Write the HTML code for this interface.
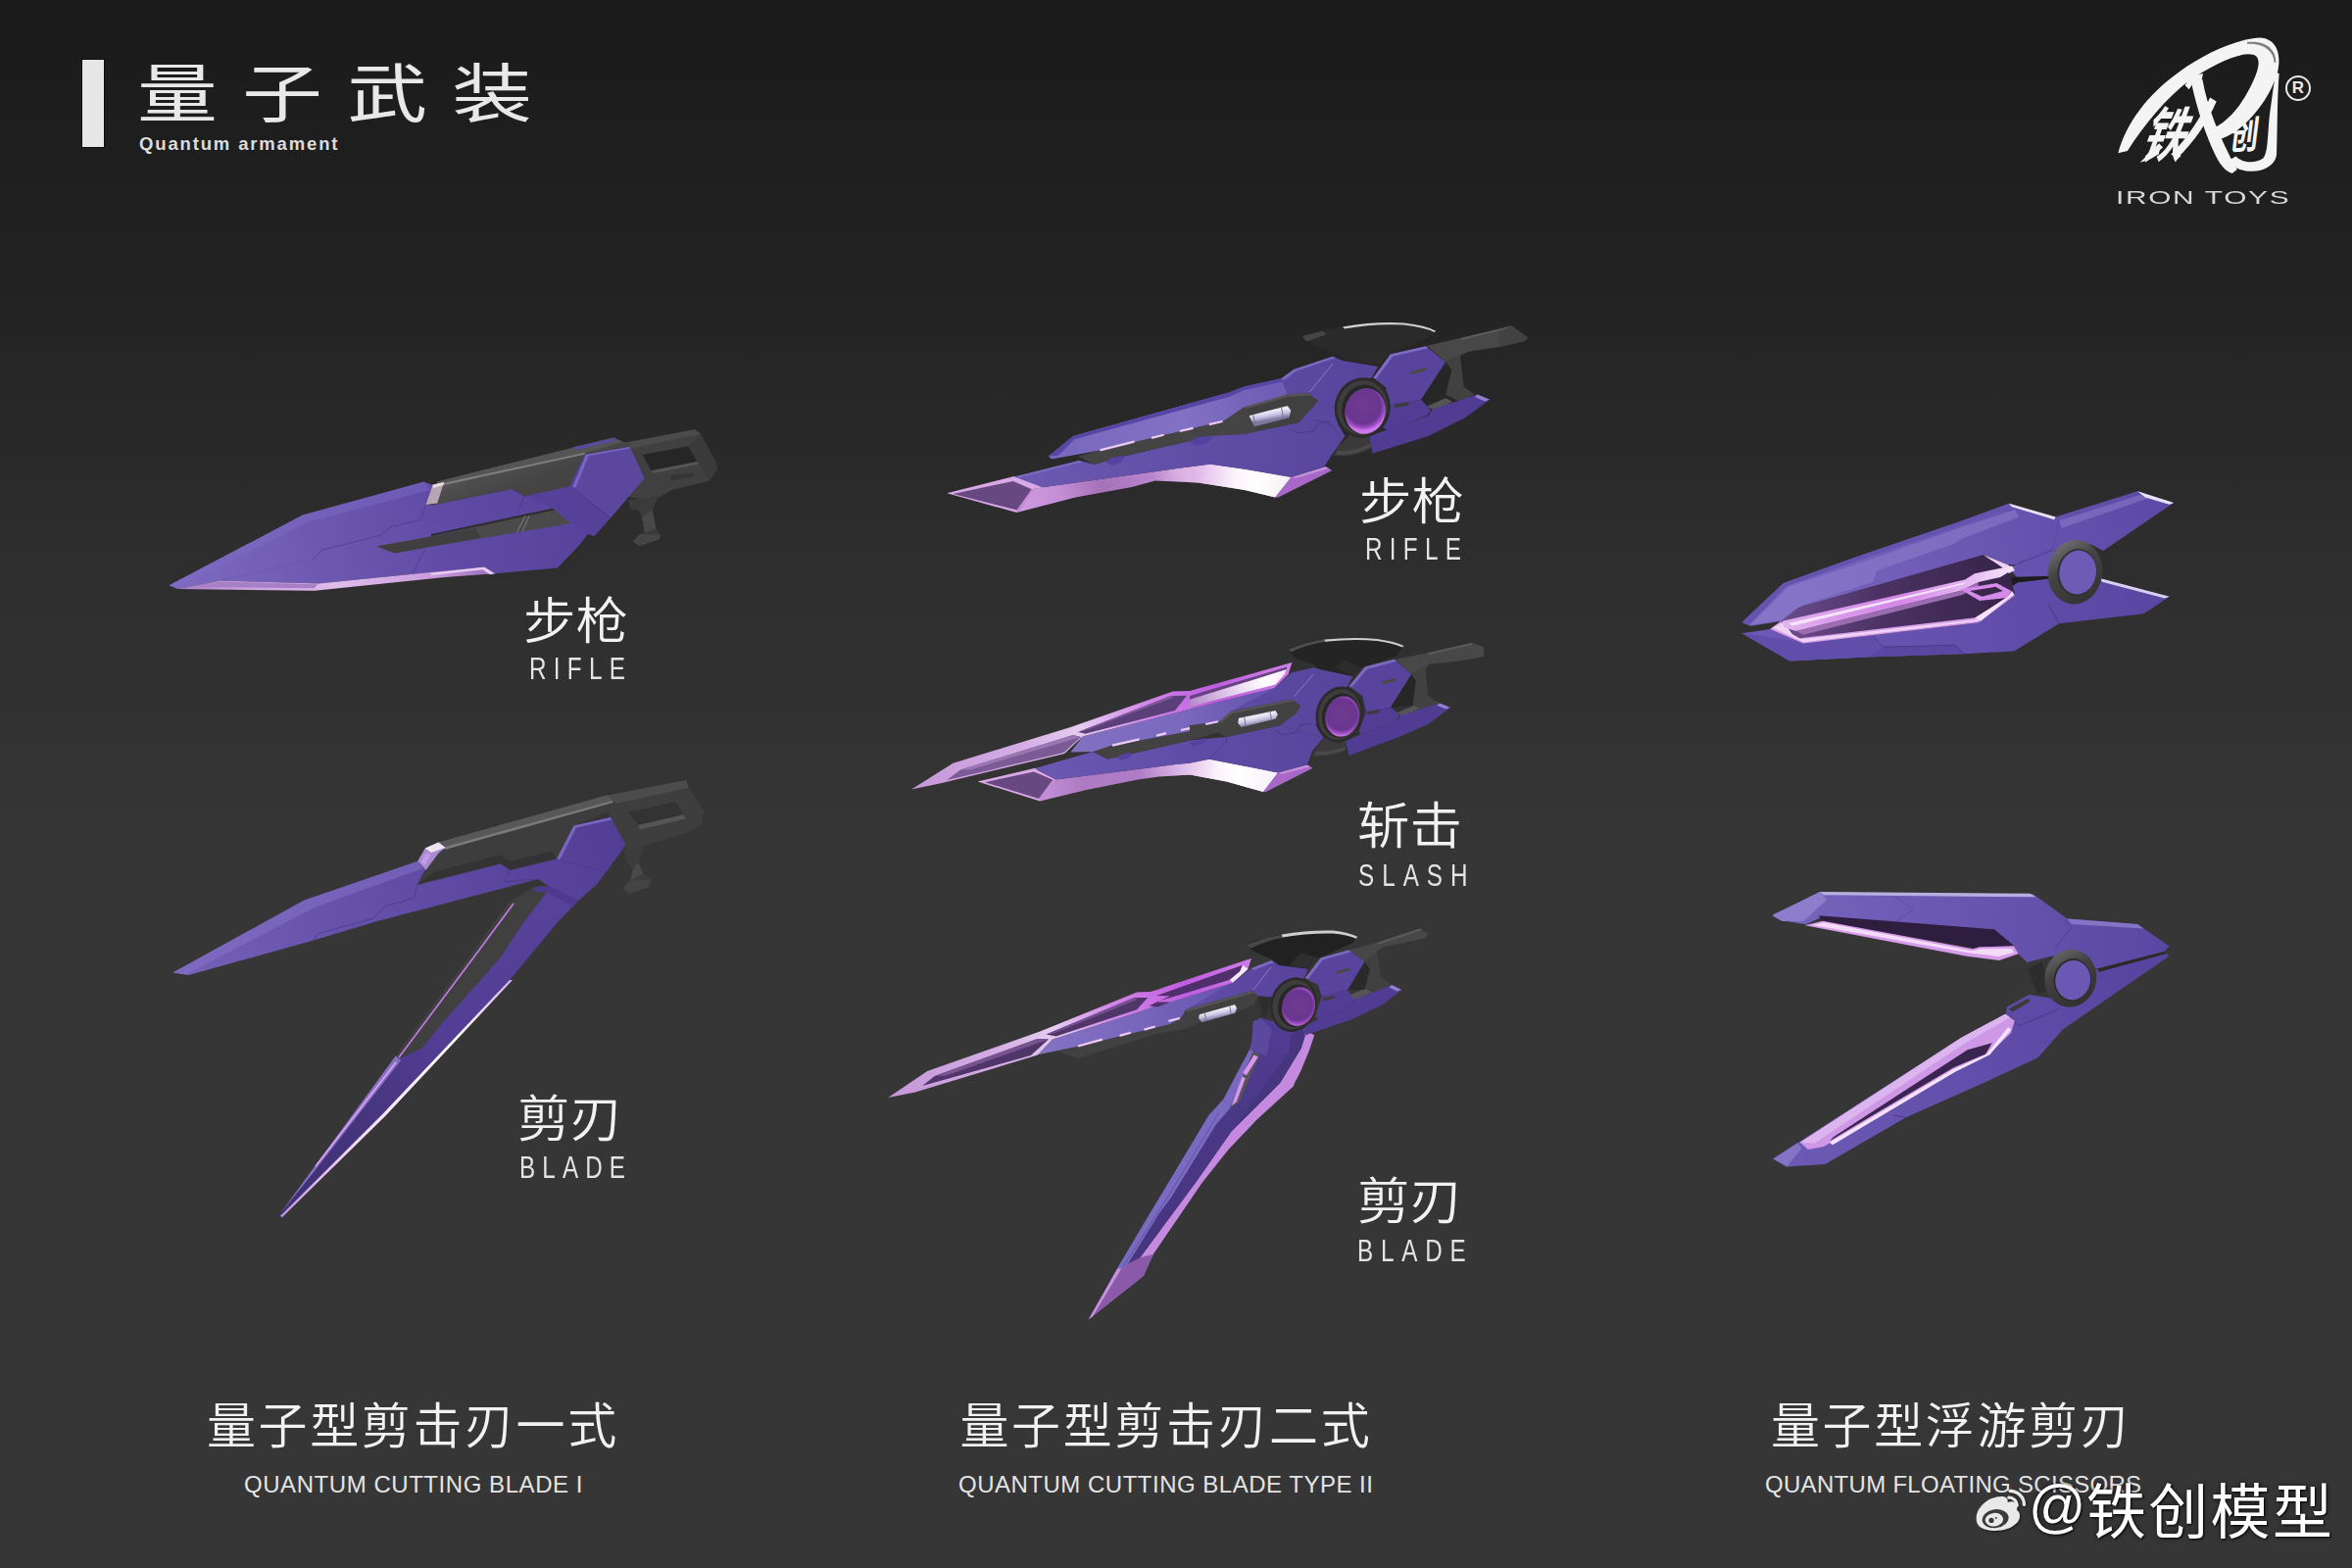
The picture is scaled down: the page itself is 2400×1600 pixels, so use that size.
<!DOCTYPE html>
<html lang="zh-CN">
<head>
<meta charset="utf-8">
<title>量子武装 Quantum armament</title>
<style>
html,body{margin:0;padding:0;}
body{width:2400px;height:1600px;overflow:hidden;position:relative;background:#2c2c2c;
  font-family:"Liberation Sans","Noto Sans CJK SC",sans-serif;color:#ececec;}
#bg{position:absolute;left:0;top:0;width:2400px;height:1600px;
  background:linear-gradient(to bottom,#1a1a1a 0px,#1d1d1d 100px,#212121 265px,#272727 400px,#2d2d2d 550px,#313131 700px,#353535 850px,#363636 960px,#363636 1600px);}
.t{position:absolute;white-space:nowrap;line-height:1;transform-origin:0 0;}
.cn{font-family:"Liberation Sans","Noto Sans CJK SC",sans-serif;font-weight:350;color:#f2f2f2;}
.en{font-family:"Liberation Sans",sans-serif;font-weight:400;color:#e4e4e4;}
#bar{position:absolute;left:84px;top:61px;width:22px;height:89px;background:#e6e6e6;box-shadow:0 0 0 1px #0c0c0c;}
svg{position:absolute;left:0;top:0;}
</style>
</head>
<body>
<div id="bg"></div>

<!-- ART -->
<svg id="art" width="2400" height="1600" viewBox="0 0 2400 1600">
<defs>
<filter id="wbsh" x="-20%" y="-20%" width="140%" height="140%"><feDropShadow dx="1" dy="1" stdDeviation="1.2" flood-color="#000" flood-opacity="0.6"/></filter>
<linearGradient id="w1body" gradientUnits="userSpaceOnUse" x1="172.5" y1="595.0" x2="647.5" y2="482.5"><stop offset="0" stop-color="#7e6bc0"/><stop offset="0.35" stop-color="#6b57b0"/><stop offset="0.62" stop-color="#5e4aa4"/><stop offset="1" stop-color="#543f98"/></linearGradient>
<linearGradient id="w1pink" gradientUnits="userSpaceOnUse" x1="181.2" y1="601.2" x2="505.0" y2="585.0"><stop offset="0" stop-color="#a77fc8"/><stop offset="0.2" stop-color="#c9a0dc"/><stop offset="0.5" stop-color="#e0bcec"/><stop offset="0.8" stop-color="#cb9cde"/><stop offset="1" stop-color="#9a6cbc"/></linearGradient>
<linearGradient id="w1rail" gradientUnits="userSpaceOnUse" x1="515.0" y1="467.5" x2="527.5" y2="500.0"><stop offset="0" stop-color="#5a5a5a"/><stop offset="0.3" stop-color="#4d4d4d"/><stop offset="1" stop-color="#444"/></linearGradient>
<linearGradient id="w2up" gradientUnits="userSpaceOnUse" x1="176.2" y1="992.5" x2="635.0" y2="842.5"><stop offset="0" stop-color="#7562b8"/><stop offset="0.4" stop-color="#6550aa"/><stop offset="0.75" stop-color="#5a459e"/><stop offset="1" stop-color="#523e94"/></linearGradient>
<linearGradient id="w2low" gradientUnits="userSpaceOnUse" x1="585.0" y1="915.0" x2="290.0" y2="1240.0"><stop offset="0" stop-color="#57429a"/><stop offset="0.45" stop-color="#523e94"/><stop offset="0.7" stop-color="#46357e"/><stop offset="1" stop-color="#3f3074"/></linearGradient>
<linearGradient id="w2edge" gradientUnits="userSpaceOnUse" x1="520.0" y1="1000.0" x2="286.0" y2="1241.0"><stop offset="0" stop-color="#d9b4ea"/><stop offset="0.25" stop-color="#ffffff"/><stop offset="0.7" stop-color="#f2d8f8"/><stop offset="1" stop-color="#c79be0"/></linearGradient>
<linearGradient id="w3plate" gradientUnits="userSpaceOnUse" x1="1072.5" y1="467.5" x2="1297.5" y2="400.0"><stop offset="0" stop-color="#7868bc"/><stop offset="0.6" stop-color="#8272c4"/><stop offset="1" stop-color="#6f5db6"/></linearGradient>
<linearGradient id="w3body" gradientUnits="userSpaceOnUse" x1="1035.0" y1="486.2" x2="1510.0" y2="442.5"><stop offset="0" stop-color="#6b59b2"/><stop offset="0.4" stop-color="#604da6"/><stop offset="1" stop-color="#523f96"/></linearGradient>
<linearGradient id="w3band" gradientUnits="userSpaceOnUse" x1="1037.5" y1="511.2" x2="1210.0" y2="480.0"><stop offset="0" stop-color="#cf9ae0"/><stop offset="0.25" stop-color="#c48fd6"/><stop offset="0.5" stop-color="#a571b8"/><stop offset="0.8" stop-color="#b985cc"/><stop offset="1" stop-color="#e3bdea"/></linearGradient>
<linearGradient id="w3white" gradientUnits="userSpaceOnUse" x1="1200.0" y1="480.0" x2="1320.0" y2="495.0"><stop offset="0" stop-color="#c896dc" stop-opacity="0"/><stop offset="0.25" stop-color="#e6c6ee"/><stop offset="0.5" stop-color="#fbf4fc"/><stop offset="0.7" stop-color="#ffffff"/><stop offset="1" stop-color="#f4ecf6"/></linearGradient>
<radialGradient id="w3lens" gradientUnits="userSpaceOnUse" cx="1390.0" cy="415.0" r="25.0"><stop offset="0" stop-color="#6e3c8e"/><stop offset="0.72" stop-color="#6a3590"/><stop offset="0.9" stop-color="#a550c8"/><stop offset="1" stop-color="#cf7aec"/></radialGradient>
<linearGradient id="w3cyl" gradientUnits="userSpaceOnUse" x1="1292.5" y1="415.0" x2="1295.0" y2="428.8"><stop offset="0" stop-color="#a9a4c0"/><stop offset="0.35" stop-color="#f0eefa"/><stop offset="0.7" stop-color="#c4bfe0"/><stop offset="1" stop-color="#7d78a0"/></linearGradient>
<linearGradient id="w4rim" gradientUnits="userSpaceOnUse" x1="930.0" y1="805.6" x2="1320.0" y2="687.5"><stop offset="0" stop-color="#c596d8"/><stop offset="0.3" stop-color="#d4aee4"/><stop offset="0.45" stop-color="#e6ccf0"/><stop offset="0.62" stop-color="#d288ea"/><stop offset="0.8" stop-color="#c05ce0"/><stop offset="1" stop-color="#d080ea"/></linearGradient>
<linearGradient id="w4body" gradientUnits="userSpaceOnUse" x1="1056.2" y1="784.4" x2="1470.0" y2="762.5"><stop offset="0" stop-color="#6a58b2"/><stop offset="0.4" stop-color="#5f4ca6"/><stop offset="1" stop-color="#523f96"/></linearGradient>
<linearGradient id="w4plate" gradientUnits="userSpaceOnUse" x1="1095.0" y1="762.5" x2="1282.5" y2="720.0"><stop offset="0" stop-color="#8270c2"/><stop offset="0.6" stop-color="#7a68be"/><stop offset="1" stop-color="#6856b0"/></linearGradient>
<linearGradient id="w4band" gradientUnits="userSpaceOnUse" x1="1061.2" y1="812.5" x2="1207.5" y2="781.2"><stop offset="0" stop-color="#c591d8"/><stop offset="0.3" stop-color="#ae7ac2"/><stop offset="0.7" stop-color="#b07cc6"/><stop offset="1" stop-color="#e4c0ec"/></linearGradient>
<linearGradient id="w4white" gradientUnits="userSpaceOnUse" x1="1185.0" y1="790.0" x2="1300.0" y2="800.0"><stop offset="0" stop-color="#c896dc" stop-opacity="0"/><stop offset="0.25" stop-color="#e6c6ee"/><stop offset="0.5" stop-color="#fbf4fc"/><stop offset="0.7" stop-color="#ffffff"/><stop offset="1" stop-color="#f6f0f8"/></linearGradient>
<linearGradient id="w4refl" gradientUnits="userSpaceOnUse" x1="1214.0" y1="715.0" x2="1311.5" y2="690.0"><stop offset="0" stop-color="#b58bc8"/><stop offset="0.45" stop-color="#e6d2ee"/><stop offset="0.8" stop-color="#ffffff"/><stop offset="1" stop-color="#f6eafa"/></linearGradient>
<radialGradient id="w4lens" gradientUnits="userSpaceOnUse" cx="1368.4" cy="729.4" r="21.9"><stop offset="0" stop-color="#6e3c8e"/><stop offset="0.72" stop-color="#6a3590"/><stop offset="0.9" stop-color="#a550c8"/><stop offset="1" stop-color="#cf7aec"/></radialGradient>
<linearGradient id="w4cyl" gradientUnits="userSpaceOnUse" x1="1281.5" y1="726.2" x2="1284.0" y2="738.8"><stop offset="0" stop-color="#a9a4c0"/><stop offset="0.35" stop-color="#f0eefa"/><stop offset="0.7" stop-color="#c4bfe0"/><stop offset="1" stop-color="#7d78a0"/></linearGradient>
<linearGradient id="w5rim" gradientUnits="userSpaceOnUse" x1="906.2" y1="1120.0" x2="1287.5" y2="977.5"><stop offset="0" stop-color="#c596d8"/><stop offset="0.3" stop-color="#d4aee4"/><stop offset="0.45" stop-color="#e6ccf0"/><stop offset="0.6" stop-color="#d288ea"/><stop offset="0.8" stop-color="#c05ce0"/><stop offset="1" stop-color="#d080ea"/></linearGradient>
<linearGradient id="w5body" gradientUnits="userSpaceOnUse" x1="1180.0" y1="1030.0" x2="1430.0" y2="1017.5"><stop offset="0" stop-color="#6350aa"/><stop offset="0.5" stop-color="#59459e"/><stop offset="1" stop-color="#503c92"/></linearGradient>
<linearGradient id="w5plate" gradientUnits="userSpaceOnUse" x1="1062.5" y1="1075.0" x2="1262.5" y2="1015.0"><stop offset="0" stop-color="#8472c2"/><stop offset="0.5" stop-color="#7866bc"/><stop offset="1" stop-color="#6553ae"/></linearGradient>
<linearGradient id="w5arm" gradientUnits="userSpaceOnUse" x1="1300.0" y1="1040.0" x2="1112.0" y2="1346.0"><stop offset="0" stop-color="#503c92"/><stop offset="0.3" stop-color="#4a3886"/><stop offset="1" stop-color="#44337c"/></linearGradient>
<radialGradient id="w5lens" gradientUnits="userSpaceOnUse" cx="1323.8" cy="1026.2" r="21.2"><stop offset="0" stop-color="#6e3c8e"/><stop offset="0.72" stop-color="#6a3590"/><stop offset="0.9" stop-color="#a550c8"/><stop offset="1" stop-color="#cf7aec"/></radialGradient>
<linearGradient id="w5cyl" gradientUnits="userSpaceOnUse" x1="1241.2" y1="1026.2" x2="1243.8" y2="1038.8"><stop offset="0" stop-color="#a9a4c0"/><stop offset="0.35" stop-color="#f0eefa"/><stop offset="0.7" stop-color="#c4bfe0"/><stop offset="1" stop-color="#7d78a0"/></linearGradient>
<linearGradient id="w6up" gradientUnits="userSpaceOnUse" x1="1777.5" y1="635.0" x2="2218.1" y2="513.1"><stop offset="0" stop-color="#7a68c0"/><stop offset="0.35" stop-color="#715eb8"/><stop offset="0.7" stop-color="#6552ae"/><stop offset="1" stop-color="#5c49a6"/></linearGradient>
<linearGradient id="w6low" gradientUnits="userSpaceOnUse" x1="1777.5" y1="652.5" x2="2213.8" y2="608.8"><stop offset="0" stop-color="#6c5ab6"/><stop offset="0.5" stop-color="#6350ad"/><stop offset="1" stop-color="#5946a3"/></linearGradient>
<linearGradient id="w6bar" gradientUnits="userSpaceOnUse" x1="1820.0" y1="637.5" x2="2055.0" y2="580.0"><stop offset="0" stop-color="#e0b4ee"/><stop offset="0.25" stop-color="#d898ea"/><stop offset="0.5" stop-color="#d488e8"/><stop offset="0.8" stop-color="#e6b8f2"/><stop offset="1" stop-color="#f6e6fa"/></linearGradient>
<linearGradient id="w6ring" gradientUnits="userSpaceOnUse" x1="2096.2" y1="560.0" x2="2140.0" y2="610.0"><stop offset="0" stop-color="#6e6e6e"/><stop offset="0.35" stop-color="#444"/><stop offset="1" stop-color="#323232"/></linearGradient>
<linearGradient id="w6cav" gradientUnits="userSpaceOnUse" x1="1820.0" y1="627.5" x2="2045.0" y2="590.0"><stop offset="0" stop-color="#6a4b8c"/><stop offset="0.45" stop-color="#4a3162"/><stop offset="1" stop-color="#38254a"/></linearGradient>
<linearGradient id="w7up" gradientUnits="userSpaceOnUse" x1="1809.3" y1="933.1" x2="2213.6" y2="966.7"><stop offset="0" stop-color="#7766be"/><stop offset="0.4" stop-color="#6a58b2"/><stop offset="1" stop-color="#5a47a2"/></linearGradient>
<linearGradient id="w7low" gradientUnits="userSpaceOnUse" x1="1809.3" y1="1182.4" x2="2213.6" y2="973.2"><stop offset="0" stop-color="#6c5ab4"/><stop offset="0.5" stop-color="#614eaa"/><stop offset="1" stop-color="#56439e"/></linearGradient>
<linearGradient id="w7ring" gradientUnits="userSpaceOnUse" x1="2092.2" y1="975.4" x2="2131.2" y2="1023.1"><stop offset="0" stop-color="#666"/><stop offset="0.35" stop-color="#424242"/><stop offset="1" stop-color="#303030"/></linearGradient>
</defs>
<!-- w1 -->
<polygon points="632.5,452.8 708.8,438.2 714.8,442.8 731.0,472.5 732.0,479.0 724.0,490.8 685.6,500.0 675.0,506.2 660.0,510.0 642.5,507.5" fill="#404040"/>
<polygon points="635.0,452.2 708.8,438.2 714.8,442.8 645.0,457.5" fill="#4b4b4b"/>
<polygon points="702.5,455.2 714.8,442.8 731.0,472.5 732.0,479.0 724.0,490.8 712.5,472.5" fill="#3a3a3a"/>
<polygon points="655.6,464.0 702.2,455.2 711.5,471.0 664.4,480.2" fill="#262626"/>
<polygon points="664.4,480.2 711.5,471.0 713.1,473.8 666.2,483.1" fill="#555"/>
<polygon points="683.8,485.0 707.5,482.5 708.8,486.2 684.4,490.6" fill="#353535"/>
<polygon points="641.2,510.0 672.5,506.2 665.6,520.0 669.4,539.4 674.0,546.0 672.8,550.2 652.5,557.1 646.0,552.8 652.5,545.0 657.8,543.5 655.2,527.5 651.2,520.6 643.1,519.4" fill="#3b3b3b"/>
<polygon points="655.2,527.5 665.6,520.0 669.4,539.4 657.8,543.5" fill="#484848"/>
<polygon points="646.0,552.8 652.5,545.0 674.0,546.0 672.8,550.2 652.5,557.1" fill="#454545"/>
<polygon points="446.2,491.5 626.2,446.6 645.0,454.4 596.2,465.2 581.5,496.5 535.2,506.5 522.8,499.0 442.5,515.2" fill="url(#w1rail)"/>
<polygon points="446.2,491.5 626.2,446.6 635.0,451.0 596.5,462.2 452.0,493.8" fill="#555555"/>
<polygon points="451.5,493.2 597.0,461.8 596.5,463.8 452.0,495.2" fill="#808080"/>
<polygon points="583.8,456.5 625.2,446.9 629.0,449.5 587.8,459.0" fill="#5d48a0"/>
<polygon points="172.5,597.2 308.8,525.6 432.5,491.5 441.5,494.8 434.5,515.0 442.5,515.2 522.5,499.0 535.0,506.5 581.2,496.5 596.2,465.2 597.5,463.8 642.5,455.8 657.5,488.1 606.2,546.9 600.0,545.0 590.0,557.5 568.8,579.4 505.0,585.2 495.0,578.2 454.0,582.5 325.0,595.6 225.0,592.5 181.2,601.0" fill="url(#w1body)"/>
<polygon points="172.5,597.2 308.8,525.6 432.5,491.5 439.4,500.0 315.0,532.5 180.0,600.0" fill="#7f6fc8" opacity="0.4"/>
<polygon points="597.8,464.0 642.5,456.0 657.5,488.1 622.8,528.8 584.0,497.5" fill="#5c479f"/>
<polygon points="597.8,464.0 601.2,463.8 587.8,496.9 584.0,497.5" fill="#7a66c0"/>
<polygon points="597.8,464.0 642.5,456.0 643.2,457.5 600.6,465.2" fill="#7a66c0"/>
<polygon points="584.0,497.5 622.8,528.8 606.2,546.9 563.8,518.8 535.2,506.5 581.5,496.5" fill="#56419a"/>
<polygon points="384.4,557.5 454.0,545.0 563.8,518.8 582.8,534.0 440.0,557.8 402.5,564.4" fill="#4a4a4a"/>
<polygon points="384.4,557.5 454.0,545.0 485.0,538.8 490.0,548.8 440.0,557.8 402.5,564.4" fill="#3f3f3f"/>
<polygon points="440.0,545.0 563.8,518.8 566.2,520.6 440.0,547.2" fill="#2e2e2e"/>
<polyline points="527.5,543.1 536.2,526.2" fill="none" stroke="#8a8a8a" stroke-width="0.8"/>
<polyline points="533.1,542.2 540.0,526.2" fill="none" stroke="#8a8a8a" stroke-width="0.8"/>
<polyline points="318.8,571.2 328.8,561.2 388.8,546.2 397.5,538.1 430.0,530.0 432.5,520.0 435.0,515.0" fill="none" stroke="#4b3a8a" stroke-width="0.7"/>
<polyline points="225.0,592.5 318.8,571.2" fill="none" stroke="#6a58a8" stroke-width="0.6"/>
<polyline points="421.2,585.0 433.8,560.0" fill="none" stroke="#4b3a8a" stroke-width="0.7"/>
<polyline points="527.5,525.0 535.2,506.5" fill="none" stroke="#453585" stroke-width="0.7"/>
<polyline points="584.0,497.5 622.8,528.8" fill="none" stroke="#453585" stroke-width="0.7"/>
<polygon points="434.5,515.0 441.5,494.8 453.1,491.9 446.2,513.5" fill="#b9a4b4"/>
<polygon points="441.5,494.8 453.1,491.9 452.5,495.0 441.9,498.1" fill="#e6dde4"/>
<polygon points="181.2,601.0 225.0,592.5 325.0,595.6 454.0,582.5 495.0,578.2 505.0,585.2 454.0,589.0 321.2,602.8" fill="url(#w1pink)"/>
<polygon points="192.5,599.0 226.2,593.5 324.4,596.2 320.6,600.2" fill="#a77fc6"/>
<polygon points="440.0,584.8 493.8,578.8 505.0,585.2 500.0,586.2 492.5,581.2 440.0,586.9" fill="#e8cdf2"/>
<!-- w2 -->
<polygon points="618.8,811.8 700.0,796.0 703.0,803.8 718.0,828.0 716.5,840.5 705.5,848.0 658.0,862.5 645.0,870.5 635.0,863.0 622.0,834.5" fill="#3e3e3e"/>
<polygon points="618.8,811.8 700.0,796.0 703.0,803.8 628.8,820.0" fill="#4c4c4c"/>
<polygon points="641.2,828.8 689.5,818.0 697.5,831.2 651.2,842.0" fill="#333333"/>
<polygon points="651.2,842.0 697.5,831.2 699.5,835.5 653.0,846.5" fill="#555"/>
<polygon points="636.2,867.5 658.8,863.8 651.2,880.0 656.2,891.2 665.0,897.5 662.0,905.0 642.5,912.0 635.0,906.2 643.0,898.5 646.0,887.5 638.8,878.0" fill="#3c3c3c"/>
<polygon points="646.0,887.5 651.2,880.0 656.2,891.2 643.0,898.5" fill="#4a4a4a"/>
<polygon points="635.0,906.2 643.0,898.5 665.0,897.5 662.0,905.0 642.5,912.0" fill="#444"/>
<polygon points="447.5,859.5 620.0,811.2 631.2,823.8 585.5,842.5 568.0,876.5 520.5,888.0 510.5,881.5 425.5,903.0 433.8,887.5" fill="#3d3d3d"/>
<polygon points="447.5,859.5 620.0,811.2 625.5,817.5 453.8,865.5" fill="#585858"/>
<polygon points="453.0,864.5 625.0,817.0 625.5,819.0 454.0,867.0" fill="#7a7a7a"/>
<polygon points="442.5,890.0 510.0,872.5 521.2,878.8 562.5,868.8 567.5,876.2 520.5,888.0 510.5,881.5 425.5,903.0" fill="#333"/>
<polygon points="176.2,992.5 310.0,918.8 426.2,878.8 433.8,887.5 425.5,903.0 510.5,881.5 520.5,888.0 568.0,876.5 585.5,842.5 623.0,833.8 638.5,862.5 609.5,901.8 590.5,919.0 560.0,904.5 549.0,897.0 385.0,940.0 320.0,959.5 192.5,995.0" fill="url(#w2up)"/>
<polygon points="176.2,992.5 310.0,918.8 426.2,878.8 431.2,886.2 320.0,926.2 190.0,994.5" fill="#8a78cc" opacity="0.45"/>
<polygon points="585.5,842.5 623.0,834.2 624.0,836.5 588.0,844.5 571.2,877.5 568.0,876.5" fill="#7a66c0"/>
<polyline points="320.0,959.5 325.0,952.5 380.0,937.5 392.5,925.0 422.5,916.2 425.5,903.0" fill="none" stroke="#47367f" stroke-width="0.7"/>
<polyline points="520.5,888.0 515.0,900.0 549.0,897.0" fill="none" stroke="#47367f" stroke-width="0.7"/>
<polyline points="568.0,876.5 618.0,890.0" fill="none" stroke="#4a3888" stroke-width="0.6"/>
<polygon points="426.2,878.8 433.8,865.5 447.5,859.5 454.5,865.0 448.0,870.0 434.5,888.0" fill="#a98bd0"/>
<polygon points="433.8,865.5 447.5,859.5 454.5,865.0 440.0,870.0" fill="#ece4f2"/>
<polygon points="429.5,880.0 435.0,870.0 439.5,872.0 433.8,883.0" fill="#c59ae8"/>
<polygon points="545.0,905.0 560.0,903.0 560.0,907.5 535.0,940.0 510.0,977.5 492.5,997.5 472.5,1020.0 452.5,1042.5 430.0,1070.0 407.5,1080.0 403.7,1077.5 520.0,920.0" fill="#404040"/>
<polygon points="560.0,904.0 590.0,918.7 570.0,940.0 520.0,1000.0 391.2,1137.5 287.0,1241.5 284.4,1240.6 403.7,1077.5 407.5,1080.0 430.0,1070.0 452.5,1042.5 472.5,1020.0 492.5,997.5 510.0,977.5 535.0,940.0 560.0,907.5" fill="url(#w2low)"/>
<polygon points="403.7,1077.5 409.0,1082.0 320.0,1196.0 284.4,1240.6" fill="#8672c4"/>
<polyline points="524.0,922.0 490.0,968.0 407.0,1079.0" fill="none" stroke="#c77be8" stroke-width="1.6"/>
<polyline points="404.0,1084.0 322.0,1190.0" fill="none" stroke="#e4a2f4" stroke-width="1.5"/>
<polygon points="520.0,1000.0 523.0,1000.0 393.5,1138.5 288.0,1242.0 286.0,1241.0 391.2,1136.0" fill="url(#w2edge)"/>
<polygon points="545.0,905.0 560.0,904.5 590.5,919.0 585.0,925.0 557.5,910.0 546.2,910.0" fill="#4d3a8e"/>
<!-- w3 -->
<polygon points="1456.2,352.8 1490.0,345.0 1542.5,332.5 1559.0,344.4 1556.2,348.1 1530.0,354.0 1498.8,358.8 1475.0,369.4" fill="#484848"/>
<polygon points="1490.0,345.0 1542.5,332.5 1545.0,334.0 1491.9,346.9" fill="#5a5a5a"/>
<polygon points="1530.0,338.8 1542.5,332.5 1559.0,344.4 1556.2,348.1 1530.0,354.0" fill="#424242"/>
<polygon points="1475.0,369.4 1498.8,358.8 1490.0,362.5 1493.8,395.0 1505.0,402.5 1490.0,410.0 1475.0,402.5 1481.2,377.5" fill="#414141"/>
<polygon points="1455.0,415.0 1475.0,406.2 1482.5,410.0 1465.0,418.8" fill="#555"/>
<polygon points="1475.0,369.4 1481.2,377.5 1475.0,402.5 1450.0,408.1" fill="#262626"/>
<polygon points="1328.8,343.1 1340.0,338.8 1370.0,333.1 1432.5,329.4 1465.0,337.5 1457.5,345.0 1417.5,361.2 1407.5,372.5 1380.0,368.8 1360.0,360.0 1337.5,350.0" fill="#2a2a2a"/>
<polygon points="1328.8,343.1 1350.0,337.8 1353.1,341.5 1333.1,348.5" fill="#454545"/>
<path d="M1370.0 333.5 Q1402.5 327.8 1432.5 329.5 Q1455.0 331.9 1465.2 337.8 L1463.5 339.0 Q1453.8 334.0 1432.5 331.5 Q1402.5 330.0 1371.9 335.5 Z" fill="#cfcfcf"/>
<polygon points="1382.5,367.5 1395.0,357.5 1417.5,361.2 1407.5,372.5" fill="#2c2c2c"/>
<path d="M1360.0 465.0 Q1382.5 467.5 1400.0 456.9 L1397.5 445.0 L1377.5 443.8 L1365.0 456.2 Z" fill="#3a3a3a"/>
<path d="M1362.5 463.8 Q1382.5 465.6 1398.8 455.6 L1398.1 452.5 Q1382.5 461.2 1365.0 460.0 Z" fill="#4a4a4a"/>
<polygon points="1053.8,498.8 1063.8,497.2 1201.2,477.9 1235.0,473.8 1270.0,478.8 1317.5,486.9 1301.2,507.5 1270.0,500.0 1222.5,492.5 1178.8,490.6 1155.0,496.9 1097.5,507.5 1037.5,523.1" fill="url(#w3band)"/>
<polygon points="1201.2,477.9 1235.0,473.8 1270.0,478.8 1317.5,486.9 1301.2,507.5 1270.0,500.0 1222.5,492.5 1178.8,490.6 1165.0,493.8" fill="url(#w3white)"/>
<polygon points="1317.5,486.9 1352.5,476.2 1359.4,480.0 1304.4,507.5 1301.2,507.5" fill="#a868c8"/>
<polygon points="1317.5,486.9 1352.5,476.2 1356.2,477.8 1322.5,488.1" fill="#c590dc"/>
<polygon points="966.2,503.2 1035.0,486.0 1065.0,497.2 1053.8,499.0 1037.5,523.1" fill="#d9a8e6"/>
<polygon points="972.5,504.0 1033.8,491.0 1052.8,499.2 1037.8,520.6" fill="#684880"/>
<polygon points="1037.8,520.6 1052.8,499.2 1055.0,499.0 1040.0,522.5" fill="#c48ad8"/>
<polygon points="1035.0,486.5 1101.2,470.0 1116.2,473.8 1147.5,465.6 1254.0,440.0 1270.0,440.0 1340.0,428.8 1372.5,445.0 1360.0,462.5 1351.2,476.2 1317.5,486.9 1270.0,478.8 1235.0,473.8 1201.2,477.9 1063.8,497.2" fill="url(#w3body)"/>
<polygon points="1035.0,486.5 1101.2,470.0 1105.0,471.2 1040.0,487.8" fill="#7a6abf"/>
<polygon points="1270.0,394.4 1307.5,386.2 1320.0,376.9 1360.0,363.8 1370.0,368.1 1406.2,374.0 1400.0,385.0 1372.5,402.5 1365.0,432.5 1372.5,445.0 1340.0,445.0 1270.0,443.8" fill="url(#w3body)"/>
<polygon points="1307.5,386.2 1320.0,376.9 1360.0,363.8 1362.5,365.2 1322.5,378.8 1310.2,388.1" fill="#7b69c0"/>
<polyline points="1360.2,371.0 1336.2,400.0" fill="none" stroke="#8b7ad0" stroke-width="1.0"/>
<polyline points="1340.0,428.8 1352.5,430.0 1365.0,440.0" fill="none" stroke="#47377f" stroke-width="0.8"/>
<polyline points="1316.2,437.5 1325.0,441.9 1340.0,440.0 1345.0,432.5 1357.5,430.0" fill="none" stroke="#47377f" stroke-width="0.8"/>
<polygon points="1270.0,415.0 1312.5,402.5 1335.0,401.2 1345.0,409.0 1340.0,415.2 1325.0,431.5 1282.5,440.2 1270.0,443.1" fill="#404040"/>
<polygon points="1270.0,415.0 1312.5,402.5 1335.0,401.2 1337.5,403.5 1313.8,405.0 1270.0,417.5" fill="#555"/>
<polygon points="1272.5,424.8 1313.8,414.0 1317.2,418.8 1315.6,426.2 1275.0,436.5 1271.2,432.5" fill="url(#w3cyl)"/>
<polyline points="1278.8,423.2 1281.0,435.0" fill="none" stroke="#77738f" stroke-width="1.0"/>
<polyline points="1307.5,415.8 1309.8,427.5" fill="none" stroke="#77738f" stroke-width="1.0"/>
<polygon points="1100.0,465.6 1122.5,459.4 1248.8,429.4 1270.0,415.0 1282.5,440.2 1270.0,443.1 1240.0,444.4 1147.5,465.2 1116.2,474.0" fill="#444444"/>
<polygon points="1070.0,465.6 1095.0,445.0 1254.0,400.6 1270.0,394.4 1307.5,386.2 1313.1,402.5 1270.0,415.0 1248.8,429.4 1122.5,459.4 1073.1,468.5" fill="url(#w3plate)"/>
<polygon points="1070.0,465.6 1095.0,445.0 1254.0,400.6 1270.0,394.4 1307.5,386.2 1308.1,389.4 1270.0,398.1 1254.0,405.0 1096.5,448.2 1080.0,464.8" fill="#5846a6"/>
<polyline points="1122.5,459.4 1157.5,450.6" fill="none" stroke="#f0caf4" stroke-width="2.2"/>
<polyline points="1175.0,446.9 1187.5,443.8" fill="none" stroke="#f0caf4" stroke-width="2.2"/>
<polyline points="1203.8,440.0 1217.5,436.9" fill="none" stroke="#f0caf4" stroke-width="2.2"/>
<polyline points="1233.8,433.1 1247.5,430.0" fill="none" stroke="#f0caf4" stroke-width="2.2"/>
<polygon points="1128.8,471.0 1135.0,466.9 1145.0,465.0 1147.5,467.5 1142.5,472.5 1133.8,475.0" fill="#5542a0"/>
<polygon points="1213.8,450.6 1221.2,446.2 1235.0,444.4 1237.5,446.9 1231.2,451.9 1220.0,455.0" fill="#5542a0"/>
<polygon points="1418.8,361.5 1455.0,353.2 1475.0,369.4 1450.0,407.8 1417.5,413.1 1413.8,395.0 1401.2,385.6" fill="#58449c"/>
<polygon points="1418.8,361.5 1455.0,353.2 1457.5,355.2 1421.2,363.8 1404.4,386.2 1401.2,385.6" fill="#7d6bc2"/>
<polygon points="1438.8,379.8 1455.0,375.0 1455.6,377.5 1439.4,382.2" fill="#444c3a"/>
<polygon points="1415.0,412.8 1450.0,407.8 1460.0,418.8 1456.2,423.8 1437.5,431.5 1417.5,439.0 1411.2,436.5" fill="#513e94"/>
<polygon points="1397.5,445.0 1413.8,439.0 1437.5,431.5 1457.5,424.0 1461.5,417.8 1507.5,402.5 1520.2,407.8 1495.0,426.2 1457.5,445.0 1400.6,462.8" fill="#503c92"/>
<polygon points="1507.5,402.5 1520.2,407.8 1515.0,409.5 1505.0,405.0" fill="#9080d0"/>
<polygon points="1422.5,412.8 1437.5,410.2 1436.9,413.8 1423.1,416.2" fill="#3c3c3c"/>
<ellipse cx="1390.2" cy="416.0" rx="28.5" ry="30.8" fill="#2b2b2b" transform="rotate(12 1390.2 416.0)"/>
<ellipse cx="1390.2" cy="416.0" rx="25.6" ry="27.8" fill="#3d3d3d" transform="rotate(12 1390.2 416.0)"/>
<ellipse cx="1391.5" cy="417.5" rx="22.2" ry="25.0" fill="#262626" transform="rotate(12 1391.5 417.5)"/>
<ellipse cx="1393.1" cy="419.4" rx="20.6" ry="23.5" fill="url(#w3lens)" transform="rotate(12 1393.1 419.4)"/>
<!-- w4 -->
<polygon points="1424.0,672.8 1456.5,666.2 1501.5,656.0 1514.0,660.0 1514.0,670.0 1489.0,674.4 1459.0,677.5 1440.2,688.1" fill="#484848"/>
<polygon points="1456.5,666.2 1501.5,656.0 1504.0,657.5 1458.4,668.1" fill="#5a5a5a"/>
<polygon points="1440.2,688.1 1459.0,677.5 1454.6,682.5 1457.1,710.0 1469.6,717.5 1451.5,725.2 1441.5,720.0 1444.6,695.0" fill="#414141"/>
<polygon points="1425.2,727.5 1442.8,720.0 1449.0,723.1 1431.5,731.2" fill="#555"/>
<polygon points="1440.2,688.1 1444.6,695.0 1441.5,720.0 1419.0,721.5" fill="#262626"/>
<polygon points="1314.0,663.1 1319.0,661.2 1351.5,652.5 1405.2,651.9 1432.1,658.8 1425.2,669.4 1389.0,681.2 1380.2,690.2 1346.5,683.1 1339.0,677.5 1321.5,671.2" fill="#242424"/>
<path d="M1314.6 663.1 Q1332.8 655.6 1351.5 652.5 L1352.1 654.8 Q1334.0 657.5 1317.8 665.0 Z" fill="#505050"/>
<path d="M1351.5 652.5 Q1380.2 649.8 1405.2 651.9 Q1424.0 654.4 1432.5 659.0 L1430.9 660.5 Q1421.5 656.2 1405.2 654.0 Q1380.2 651.9 1352.1 654.8 Z" fill="#cfcfcf"/>
<polygon points="1361.5,681.2 1371.5,673.8 1389.0,681.2 1380.2,690.2" fill="#2c2c2c"/>
<path d="M1339.6 771.5 Q1357.8 772.5 1373.4 766.2 L1372.8 756.2 L1351.5 752.5 L1342.8 765.0 Z" fill="#3a3a3a"/>
<path d="M1340.9 770.6 Q1357.8 771.2 1372.8 765.0 L1372.5 761.9 Q1357.8 767.5 1342.8 766.9 Z" fill="#4a4a4a"/>
<polygon points="1077.5,795.6 1200.0,780.0 1214.0,778.8 1234.0,774.8 1304.0,788.5 1289.0,808.1 1251.5,797.5 1214.0,790.6 1182.5,792.5 1161.2,795.6 1107.5,806.2 1061.2,817.5" fill="url(#w4band)"/>
<polygon points="1170.0,783.8 1200.0,780.0 1214.0,778.8 1234.0,774.8 1304.0,788.5 1289.0,808.1 1251.5,797.5 1214.0,790.6 1182.5,792.5 1165.0,795.0" fill="url(#w4white)"/>
<polygon points="1304.0,788.5 1334.0,780.6 1339.6,783.8 1291.8,808.1 1289.0,808.1" fill="#a868c8"/>
<polygon points="1304.0,788.5 1334.0,780.6 1337.1,782.2 1307.8,790.0" fill="#c590dc"/>
<polygon points="997.5,797.5 1056.2,783.8 1059.4,786.2 1077.5,795.6 1061.2,817.5" fill="#d9a8e6"/>
<polygon points="1005.0,798.2 1055.0,787.5 1074.4,795.8 1060.0,815.0" fill="#684880"/>
<polygon points="1060.0,815.0 1074.4,795.8 1077.8,795.8 1061.9,817.2" fill="#c48ad8"/>
<polygon points="1056.2,784.0 1115.0,766.9 1130.0,774.4 1151.2,770.0 1214.0,755.6 1214.0,755.6 1251.5,751.9 1306.5,740.0 1350.2,753.1 1339.0,766.2 1334.0,780.2 1304.0,788.5 1234.0,774.8 1214.0,778.8 1200.0,780.0 1077.5,795.6" fill="url(#w4body)"/>
<polygon points="1214.0,724.0 1300.2,701.9 1317.8,686.2 1340.2,681.2 1346.5,683.1 1380.2,690.2 1375.2,700.0 1346.5,720.0 1342.8,740.0 1350.2,753.1 1306.5,740.0 1322.8,727.5 1327.1,720.0 1317.8,713.8 1255.2,726.2 1244.0,736.2 1214.0,740.0" fill="url(#w4body)"/>
<polyline points="1340.2,688.1 1320.2,711.2" fill="none" stroke="#8b7ad0" stroke-width="1.0"/>
<polyline points="1301.5,745.0 1309.0,750.0 1322.8,747.5 1326.5,740.0 1337.8,738.8" fill="none" stroke="#47377f" stroke-width="0.8"/>
<polyline points="1234.0,774.8 1251.5,756.2 1251.5,751.9" fill="none" stroke="#47377f" stroke-width="0.8"/>
<polygon points="1115.0,766.9 1135.0,760.6 1214.0,746.2 1214.0,740.0 1244.0,736.2 1255.2,726.2 1317.8,713.8 1327.1,720.0 1322.8,727.5 1306.5,740.0 1251.5,751.9 1242.8,747.5 1214.0,755.6 1214.0,755.6 1151.2,770.0 1130.0,774.4" fill="#424242"/>
<polygon points="1244.0,736.2 1255.2,726.2 1317.8,713.8 1320.2,715.5 1257.1,728.2 1246.8,737.2" fill="#555"/>
<polygon points="1264.0,732.8 1301.5,725.0 1303.8,729.0 1301.8,733.5 1266.5,742.0 1263.2,737.8" fill="url(#w4cyl)"/>
<polyline points="1269.6,731.5 1271.2,740.8" fill="none" stroke="#77738f" stroke-width="1.0"/>
<polyline points="1295.9,726.2 1297.5,734.6" fill="none" stroke="#77738f" stroke-width="1.0"/>
<polygon points="1092.5,767.5 1105.0,751.2 1214.0,723.8 1214.0,723.5 1300.2,701.9 1255.2,726.2 1244.0,736.2 1214.0,740.0 1214.0,746.2 1135.0,760.6 1115.0,766.9" fill="url(#w4plate)"/>
<polyline points="1135.0,760.6 1162.5,754.4" fill="none" stroke="#f0caf4" stroke-width="2.2"/>
<polyline points="1180.0,750.6 1190.0,748.1" fill="none" stroke="#f0caf4" stroke-width="2.2"/>
<polyline points="1205.0,745.0 1214.0,743.1" fill="none" stroke="#f0caf4" stroke-width="2.2"/>
<polyline points="1230.2,739.0 1243.0,736.2" fill="none" stroke="#f0caf4" stroke-width="2.2"/>
<polygon points="1140.0,773.1 1145.0,769.4 1152.5,768.1 1155.0,770.0 1151.2,773.8 1143.8,775.2" fill="#5542a0"/>
<polygon points="1214.0,757.5 1229.0,753.1 1232.8,755.0 1227.8,758.8 1216.5,761.9" fill="#5542a0"/>
<polygon points="930.0,805.6 972.5,778.8 1092.5,741.9 1196.9,705.6 1214.0,705.0 1214.0,705.0 1318.4,676.0 1314.6,688.1 1300.2,701.9 1214.0,723.5 1214.0,723.8 1105.0,751.2 1086.2,769.0 961.2,799.0" fill="url(#w4rim)"/>
<polygon points="966.2,796.0 980.0,785.6 1095.0,750.0 1103.1,751.9 1085.6,768.1" fill="#7c5a96"/>
<polygon points="980.0,785.6 1095.0,750.0 1103.1,751.9 990.0,785.6" fill="#9a76b2"/>
<polygon points="1100.0,746.9 1195.0,710.0 1211.2,709.8 1199.0,725.0 1107.5,748.8" fill="#5b3f78"/>
<polygon points="1100.0,746.9 1195.0,710.0 1198.1,711.5 1105.0,746.2" fill="#7d5a9a"/>
<polygon points="1214.0,710.0 1313.4,680.2 1310.9,687.8 1301.5,698.5 1214.0,721.0" fill="url(#w4refl)"/>
<polygon points="1214.0,710.0 1313.4,680.2 1312.8,683.1 1214.0,713.8" fill="#6a3f86"/>
<polygon points="1392.8,680.6 1422.8,672.8 1440.2,688.1 1419.0,721.5 1394.0,726.5 1390.2,710.0 1376.5,700.2" fill="#58449c"/>
<polygon points="1392.8,680.6 1422.8,672.8 1425.2,674.8 1395.2,682.8 1379.6,701.0 1376.5,700.2" fill="#7d6bc2"/>
<polygon points="1410.2,695.6 1424.0,691.9 1424.5,694.4 1410.8,698.1" fill="#444c3a"/>
<polygon points="1394.0,726.5 1419.0,721.5 1428.0,729.5 1425.2,735.0 1409.0,742.8 1389.0,749.0 1386.5,746.2" fill="#513e94"/>
<polygon points="1372.8,756.2 1389.0,749.0 1409.0,742.8 1425.2,735.2 1429.2,730.0 1469.0,717.5 1479.9,721.9 1457.8,738.8 1426.5,752.5 1376.5,770.9" fill="#503c92"/>
<polygon points="1469.0,717.5 1479.9,721.9 1475.2,723.5 1466.5,720.0" fill="#9080d0"/>
<polygon points="1395.2,726.2 1407.8,724.0 1407.2,727.2 1395.8,729.5" fill="#3c3c3c"/>
<ellipse cx="1366.8" cy="729.0" rx="24.0" ry="28.8" fill="#2b2b2b" transform="rotate(14 1366.8 729.0)"/>
<ellipse cx="1366.8" cy="729.0" rx="21.5" ry="26.0" fill="#3d3d3d" transform="rotate(14 1366.8 729.0)"/>
<ellipse cx="1368.0" cy="730.0" rx="18.8" ry="22.8" fill="#262626" transform="rotate(14 1368.0 730.0)"/>
<ellipse cx="1369.6" cy="731.0" rx="17.2" ry="20.8" fill="url(#w4lens)" transform="rotate(14 1369.6 731.0)"/>
<!-- w5 -->
<polygon points="1376.2,969.4 1405.0,961.9 1448.8,947.5 1456.9,952.5 1455.0,956.9 1436.2,961.2 1411.2,966.2 1392.5,981.2" fill="#474747"/>
<polygon points="1405.0,961.9 1448.8,947.5 1451.2,949.0 1406.9,963.8" fill="#5a5a5a"/>
<polygon points="1392.5,981.2 1411.2,966.2 1405.6,971.2 1409.0,997.5 1420.2,1005.0 1402.5,1015.2 1392.5,1010.0 1397.8,988.8" fill="#404040"/>
<polygon points="1375.0,1016.2 1392.5,1008.8 1400.0,1012.5 1382.5,1020.0" fill="#555"/>
<polygon points="1392.5,981.2 1397.8,988.8 1392.5,1010.0 1375.0,1010.2" fill="#2a2a2a"/>
<polygon points="1271.2,963.8 1280.0,960.0 1308.8,953.1 1360.0,949.4 1385.0,955.6 1380.0,962.5 1346.2,977.5 1333.8,988.8 1305.0,985.0 1297.5,978.8 1280.0,971.2" fill="#212121"/>
<path d="M1271.5 964.0 Q1290.0 956.9 1308.8 953.2 L1309.5 956.5 Q1292.5 960.0 1276.2 967.5 Z" fill="#484848"/>
<path d="M1307.8 953.5 Q1335.0 948.8 1360.0 949.5 Q1376.2 951.2 1385.2 955.8 L1383.8 957.8 Q1375.0 953.8 1360.0 952.5 Q1335.0 951.9 1308.8 956.5 Z" fill="#cfcfcf"/>
<polygon points="1315.0,985.0 1327.5,972.5 1346.2,977.5 1333.8,988.8" fill="#2e2e2e"/>
<polygon points="1330.0,1050.0 1341.2,1056.2 1336.2,1071.2 1327.5,1092.5 1321.2,1105.0 1322.5,1100.0 1320.0,1108.3 1281.7,1143.3 1253.3,1173.3 1226.7,1206.7 1176.7,1280.0 1166.7,1302.0 1110.8,1346.3 1163.3,1283.3 1220.0,1206.7 1256.7,1154.2 1306.2,1105.0 1327.5,1070.0 1331.5,1057.5" fill="#c58ae0"/>
<polygon points="1278.8,1042.5 1286.2,1038.8 1330.0,1050.0 1331.5,1057.5 1327.5,1070.0 1306.2,1105.0 1256.7,1154.2 1220.0,1206.7 1163.3,1283.3 1140.0,1294.7 1173.3,1238.3 1183.3,1221.7 1233.3,1138.3 1248.3,1121.7 1275.0,1071.2 1277.5,1061.2" fill="url(#w5arm)"/>
<polygon points="1140.0,1294.7 1163.3,1283.3 1176.7,1280.0 1166.7,1302.0 1110.8,1346.3" fill="#8a5aa8"/>
<polygon points="1140.0,1294.7 1145.0,1293.3 1115.0,1343.3 1110.8,1346.3" fill="#c890e0"/>
<polygon points="1248.3,1121.7 1233.3,1138.3 1183.3,1221.7 1173.3,1238.3 1140.0,1294.2 1147.5,1295.0 1183.3,1237.5 1194.2,1223.3 1240.8,1147.5 1255.3,1130.8" fill="#7b6bc0"/>
<polyline points="1244.2,1135.0 1190.0,1224.2 1180.8,1238.3 1145.8,1293.3" fill="none" stroke="#5a4aa0" stroke-width="0.8"/>
<polygon points="1286.2,1038.8 1297.5,1050.0 1292.5,1077.5 1275.0,1071.2 1277.5,1061.2 1278.8,1042.5" fill="#5b489f"/>
<polygon points="1306.2,1105.0 1327.5,1070.0 1331.5,1057.5 1330.0,1050.0 1317.5,1055.0 1315.0,1073.8 1256.7,1154.2 1240.0,1170.0 1256.7,1154.2" fill="#463680"/>
<polygon points="1275.0,1071.2 1278.8,1072.5 1255.3,1130.8 1248.3,1121.7" fill="#7a68c0"/>
<polygon points="1278.8,1072.5 1285.6,1076.5 1264.2,1125.0 1255.3,1130.8" fill="#565656"/>
<polygon points="1279.6,1076.5 1283.8,1078.5 1271.9,1097.2 1268.2,1094.8" fill="#d896ee"/>
<polygon points="1267.5,1098.5 1270.8,1100.2 1261.7,1124.2 1256.7,1128.3" fill="#d896ee"/>
<polygon points="1180.0,1026.9 1257.8,1002.8 1276.9,988.1 1297.5,980.0 1305.0,985.0 1334.4,988.8 1331.2,997.5 1305.0,1011.2 1296.2,1017.5 1286.2,1020.0 1277.5,1011.2 1210.0,1030.0 1205.0,1038.8 1180.0,1045.0" fill="url(#w5body)"/>
<polygon points="1276.9,988.1 1297.5,980.0 1300.0,981.9 1280.0,989.8" fill="#7b69c0"/>
<polyline points="1296.9,986.9 1278.8,1010.0" fill="none" stroke="#8b7ad0" stroke-width="1.0"/>
<polygon points="1283.8,1016.2 1296.9,1017.5 1293.1,1039.0 1287.5,1036.2" fill="#2e2e2e"/>
<polygon points="1080.0,1073.1 1100.0,1068.1 1194.0,1045.0 1205.0,1038.8 1210.0,1030.0 1277.5,1011.2 1284.0,1016.2 1280.0,1025.0 1260.0,1034.0 1223.8,1044.0 1207.5,1050.2 1180.0,1055.0 1100.0,1080.0" fill="#414141"/>
<polygon points="1210.0,1030.0 1277.5,1011.2 1280.0,1013.0 1211.9,1032.2" fill="#555"/>
<polygon points="1223.8,1035.2 1260.0,1025.0 1262.0,1028.8 1260.2,1033.8 1226.5,1043.2 1223.1,1039.0" fill="url(#w5cyl)"/>
<polyline points="1229.4,1033.8 1231.0,1041.9" fill="none" stroke="#77738f" stroke-width="1.0"/>
<polyline points="1254.8,1026.5 1256.2,1034.8" fill="none" stroke="#77738f" stroke-width="1.0"/>
<polygon points="1058.8,1076.2 1073.8,1060.6 1162.5,1032.5 1194.0,1021.2 1180.0,1026.9 1257.8,1002.8 1210.0,1030.0 1205.0,1038.8 1194.0,1045.0 1100.0,1067.8" fill="url(#w5plate)"/>
<polyline points="1100.0,1067.5 1125.0,1060.6" fill="none" stroke="#f0caf4" stroke-width="2.2"/>
<polyline points="1142.5,1056.9 1153.8,1053.8" fill="none" stroke="#f0caf4" stroke-width="2.2"/>
<polyline points="1167.5,1050.6 1178.8,1047.5" fill="none" stroke="#f0caf4" stroke-width="2.2"/>
<polyline points="1192.5,1041.9 1203.8,1039.0" fill="none" stroke="#f0caf4" stroke-width="2.2"/>
<polygon points="906.2,1120.0 946.2,1093.1 1061.2,1052.5 1160.0,1012.5 1173.8,1011.9 1194.0,1006.2 1180.0,1010.0 1276.9,977.9 1273.5,988.8 1257.8,1002.8 1180.0,1026.9 1194.0,1021.2 1162.5,1032.5 1073.8,1060.6 1058.8,1076.5 933.8,1114.5" fill="url(#w5rim)"/>
<polygon points="941.2,1108.1 953.8,1098.1 1058.8,1060.0 1070.0,1060.6 1051.9,1076.9" fill="#4f3568"/>
<polygon points="953.8,1098.1 1058.8,1060.0 1070.0,1060.6 965.0,1097.8" fill="#77548f"/>
<polygon points="1067.5,1055.6 1157.5,1018.1 1171.2,1018.1 1160.0,1030.2 1077.5,1057.5" fill="#4f3568"/>
<polygon points="1067.5,1055.6 1157.5,1018.1 1160.6,1020.0 1075.0,1054.4" fill="#74508e"/>
<polygon points="1172.5,1026.2 1194.0,1016.2 1180.0,1016.0 1268.1,984.8 1265.2,991.2 1255.0,999.8 1180.0,1022.2 1194.0,1022.5 1181.2,1027.5" fill="#50306c"/>
<polygon points="1268.1,984.8 1273.5,988.8 1257.8,1002.8 1255.0,999.8 1265.2,991.2" fill="#f4e6f8"/>
<polygon points="1347.5,977.5 1376.2,969.4 1392.5,981.2 1375.0,1010.2 1348.8,1016.5 1345.0,1005.0 1331.9,998.1" fill="#58449c"/>
<polygon points="1347.5,977.5 1376.2,969.4 1378.8,971.2 1349.8,979.5 1335.0,998.8 1331.9,998.1" fill="#7d6bc2"/>
<polygon points="1363.8,991.2 1376.9,987.5 1377.4,990.0 1364.2,993.8" fill="#444c3a"/>
<polygon points="1348.8,1016.5 1375.0,1010.2 1381.5,1020.0 1378.8,1026.2 1365.0,1034.0 1345.0,1040.2 1342.5,1037.5" fill="#513e94"/>
<polygon points="1330.0,1047.5 1345.0,1040.2 1365.0,1034.0 1378.8,1026.5 1381.5,1020.0 1420.0,1005.0 1430.2,1010.0 1411.2,1025.0 1380.0,1040.0 1331.5,1056.5" fill="#503c92"/>
<polygon points="1420.0,1005.0 1430.2,1010.0 1425.6,1011.5 1417.5,1007.5" fill="#9080d0"/>
<polygon points="1349.4,1018.1 1361.9,1016.0 1361.4,1019.0 1349.9,1021.2" fill="#3c3c3c"/>
<ellipse cx="1320.0" cy="1025.2" rx="23.5" ry="28.2" fill="#2b2b2b" transform="rotate(16 1320.0 1025.2)"/>
<ellipse cx="1320.0" cy="1025.2" rx="21.0" ry="25.5" fill="#3d3d3d" transform="rotate(16 1320.0 1025.2)"/>
<ellipse cx="1322.5" cy="1026.2" rx="18.2" ry="22.0" fill="#262626" transform="rotate(16 1322.5 1026.2)"/>
<ellipse cx="1325.0" cy="1027.0" rx="16.8" ry="20.0" fill="url(#w5lens)" transform="rotate(16 1325.0 1027.0)"/>
<!-- w6 -->
<polygon points="1777.5,646.2 1806.2,641.9 1840.0,656.2 2018.8,635.0 2056.2,607.5 2045.0,593.8 2090.0,588.8 2142.5,590.0 2213.8,608.8 2187.5,626.2 2101.2,636.2 2055.0,664.4 2003.8,667.2 1905.0,670.5 1826.2,674.4" fill="url(#w6low)"/>
<polygon points="1777.5,646.2 1826.2,674.4 1905.0,670.5 1921.9,660.2 1911.2,648.8 1830.0,653.8" fill="#614eab"/>
<polygon points="1905.0,670.5 1921.9,660.2 1995.0,658.1 2003.8,667.2" fill="#5a47a2"/>
<polyline points="1911.2,648.8 1921.9,660.2 1995.0,658.1 2003.8,667.2" fill="none" stroke="#463682" stroke-width="0.8"/>
<polyline points="2090.0,616.2 2101.2,636.2" fill="none" stroke="#43337c" stroke-width="0.9"/>
<polygon points="2142.5,590.0 2213.8,608.8 2208.8,610.6 2145.0,593.8" fill="#d8d0ee"/>
<polygon points="2042.5,594.4 2057.5,588.1 2091.2,585.6 2091.9,590.6 2058.8,594.4 2052.5,598.8" fill="#1c1c1c"/>
<polygon points="1777.5,635.0 1820.0,595.0 1895.0,568.1 1997.5,533.1 2050.0,513.8 2097.5,527.5 2181.2,501.2 2218.1,513.1 2146.2,561.9 2132.5,555.0 2095.0,561.9 2057.5,576.2 2048.8,576.2 2023.8,566.2 1835.0,620.0 1817.5,633.8 1786.2,638.8" fill="url(#w6up)"/>
<polygon points="1786.2,637.5 1825.0,598.8 1903.8,572.5 2003.8,536.9 2056.2,520.0 2060.0,527.5 2001.2,550.0 1993.8,555.0 1915.0,582.5 1911.2,593.8 1840.0,617.5 1820.0,632.5" fill="#9484d0" opacity="0.45"/>
<polygon points="1777.5,635.0 1820.0,595.0 1895.0,568.1 1997.5,533.1 2050.0,513.8 2052.8,516.8 2000.0,536.5 1897.5,571.5 1823.1,598.1 1785.0,637.5" fill="#6553b0"/>
<polygon points="2101.2,531.2 2183.8,505.0 2191.2,508.8 2103.8,538.8" fill="#9484d0" opacity="0.45"/>
<polygon points="2050.0,513.8 2097.5,527.5 2096.2,530.2 2052.5,516.9" fill="#e8e4f4"/>
<polygon points="2181.2,501.2 2218.1,513.1 2213.8,514.8 2188.8,507.5" fill="#e8e4f4"/>
<polyline points="2101.2,531.2 2095.0,560.0 2058.8,575.0" fill="none" stroke="#5a48a4" stroke-width="0.9"/>
<polygon points="2053.1,578.1 2095.0,561.5 2102.5,565.0 2093.1,587.8 2057.5,588.8 2054.4,585.0" fill="#6653b0"/>
<polyline points="2058.8,575.2 2095.0,561.5" fill="none" stroke="#4f3d94" stroke-width="0.8"/>
<polygon points="1817.5,633.8 1835.0,620.0 2023.8,566.2 2048.8,576.2 2056.2,607.5 2018.8,635.0 1840.0,656.2 1806.2,641.9" fill="url(#w6cav)"/>
<polygon points="1806.2,641.9 1817.5,633.8 1826.2,646.2 1836.2,651.2 2017.5,630.0 2053.8,605.0 2056.2,607.5 2018.8,635.2 1840.0,656.5" fill="#d9a0ea"/>
<polygon points="1808.8,640.6 1820.0,635.0 1828.8,646.9 1837.5,652.2 1920.0,643.1 2018.1,631.9 2018.8,633.8 1840.0,655.2" fill="#f0d4f6"/>
<polygon points="2023.8,566.2 2048.8,576.2 2056.2,581.9 2050.0,585.0 2045.0,580.2" fill="#f0d0f8"/>
<polygon points="1818.8,633.8 2005.0,591.5 2015.0,585.2 2052.8,577.5 2055.2,580.2 2041.2,589.0 2018.8,594.0 2001.2,602.8 1832.5,644.0 1820.0,640.0" fill="url(#w6bar)"/>
<polygon points="1825.0,636.0 2006.2,594.0 2003.8,596.2 1828.8,638.8" fill="#f6e2fa"/>
<polygon points="1832.5,644.0 2001.2,602.8 2018.8,594.0 2018.8,598.8 2002.5,606.9 1840.0,647.8" fill="#9a6cb0"/>
<polygon points="2000.0,601.2 2037.5,595.0 2052.5,603.1 2047.5,610.0 2020.0,613.1" fill="#d48ae8"/>
<polygon points="2010.0,603.1 2036.2,598.8 2043.8,603.1 2022.5,608.8" fill="#3a2648"/>
<polygon points="2047.5,610.0 2053.1,603.1 2055.0,606.2 2021.2,633.8 2015.0,630.6" fill="#f4e0fa"/>
<ellipse cx="2117.5" cy="583.8" rx="27.8" ry="32.8" fill="url(#w6ring)" transform="rotate(8 2117.5 583.8)"/>
<ellipse cx="2119.4" cy="584.0" rx="20.0" ry="24.0" fill="#2f2f2f" transform="rotate(8 2119.4 584.0)"/>
<ellipse cx="2120.2" cy="584.0" rx="18.8" ry="22.5" fill="#6d5bb6" transform="rotate(8 2120.2 584.0)"/>
<!-- w7 -->
<polygon points="2069.4,988.4 2083.5,981.9 2092.2,1010.1 2079.2,1014.4" fill="#2c2c2c"/>
<polygon points="1809.3,1182.4 1834.2,1166.2 2001.1,1058.9 2046.7,1034.4 2047.8,1027.4 2070.5,1014.9 2094.4,1018.8 2139.9,988.4 2208.2,971.1 2213.6,975.4 2105.2,1050.2 2079.2,1079.5 2018.5,1107.6 1944.8,1140.2 1862.4,1187.9 1823.4,1190.5" fill="url(#w7low)"/>
<polygon points="1809.3,1182.4 1834.2,1166.2 1838.5,1171.6 1823.4,1190.5" fill="#8474c6"/>
<polygon points="2049.9,1029.6 2069.4,1018.8 2071.6,1022.0 2053.2,1032.8" fill="#3a3a3a"/>
<polyline points="2047.8,1031.8 2059.7,1046.9 2100.9,1029.6" fill="none" stroke="#45357e" stroke-width="0.8"/>
<polyline points="1931.8,1138.0 1944.8,1140.2" fill="none" stroke="#45357e" stroke-width="0.8"/>
<polygon points="1836.8,1165.7 2001.1,1059.1 2046.2,1034.8 2055.8,1041.5 2052.1,1053.9 2031.5,1073.4 1994.6,1090.7 1916.6,1138.4 1860.7,1169.9 1845.0,1173.1" fill="#cf98e6"/>
<polygon points="1836.8,1165.7 2001.1,1059.1 2046.2,1034.8 2051.0,1038.3 2005.5,1064.3 1851.5,1166.6" fill="#dcb4ee"/>
<polygon points="1871.1,1160.1 2007.6,1071.2 2032.6,1064.3 2026.1,1075.6 1993.6,1089.2 1910.1,1138.4 1866.7,1164.4" fill="#3a2450"/>
<polygon points="1866.7,1165.7 1993.6,1090.7 2027.2,1075.6 2049.3,1048.0 2052.3,1050.8 2030.4,1076.2 1995.1,1093.8 1870.0,1168.3" fill="#f6e2fa"/>
<polygon points="1809.3,933.1 1858.0,910.4 2074.9,912.5 2109.5,937.5 2181.1,942.9 2213.6,965.6 2208.2,971.1 2139.9,988.4 2094.4,975.4 2068.3,981.9 2059.7,973.2 2055.3,966.7 2033.7,949.4 1860.2,935.3 1842.9,943.3 1819.0,939.6" fill="url(#w7up)"/>
<polygon points="1808.3,934.2 1856.7,910.0 1864.2,918.3 1840.0,940.0 1818.3,940.0" fill="#8d7dcc"/>
<polygon points="1856.7,910.0 2071.7,911.7 2077.5,915.3 1860.8,913.3" fill="#b8aee0"/>
<polygon points="2109.5,937.5 2181.1,942.9 2187.6,947.6 2113.9,942.9" fill="#8474c6"/>
<polyline points="1935.0,940.0 1952.5,927.5 1933.3,915.0" fill="none" stroke="#5a48a4" stroke-width="0.8"/>
<polyline points="2106.7,938.3 2113.3,946.7 2096.7,968.3" fill="none" stroke="#4d3b90" stroke-width="0.8"/>
<polygon points="2139.9,988.4 2208.2,971.1 2210.4,973.2 2142.1,991.7" fill="#2a2a2a"/>
<polygon points="1855.8,934.3 2035.0,948.3 2055.0,965.0 2018.3,968.0 1859.2,940.3" fill="#2f1d40"/>
<polygon points="1841.7,944.2 1860.0,939.7 2013.3,968.3 2020.0,966.3 2054.7,965.3 2059.7,973.3 2040.0,980.0 2006.7,975.7" fill="#d89cec"/>
<polygon points="1848.3,943.7 1861.7,941.3 2012.5,970.3 2020.8,968.3 2052.5,968.0 2055.0,972.0 2039.2,976.0 2008.7,972.3" fill="#f4dcf8"/>
<ellipse cx="2112.8" cy="998.2" rx="26.4" ry="29.5" fill="url(#w7ring)" transform="rotate(10 2112.8 998.2)"/>
<ellipse cx="2114.5" cy="999.7" rx="19.1" ry="21.7" fill="#2c2c2c" transform="rotate(10 2114.5 999.7)"/>
<ellipse cx="2115.2" cy="1000.1" rx="17.8" ry="20.2" fill="#6a58b4" transform="rotate(10 2115.2 1000.1)"/>
<!-- z_logo -->
<path d="M2161.4 156.3 C2168.4 128.0 2190.8 96.3 2223.5 73.4 C2252.0 52.7 2285.7 39.0 2307.1 38.6 C2323.5 40.2 2328.1 55.5 2324.0 73.9 C2318.4 93.3 2303.1 117.8 2282.7 133.1 C2274.5 139.2 2265.3 142.8 2258.2 144.3 L2255.1 132.0 C2270.4 126.9 2284.7 110.6 2293.9 93.3 C2305.1 72.9 2308.2 59.6 2300.0 56.0 C2285.7 51.9 2258.7 65.7 2233.7 82.2 C2210.2 100.4 2187.2 128.0 2170.9 154.0 Z" fill="#f4f4f4"/>
<path d="M2292.9 43.1 C2309.2 41.2 2322.4 48.4 2322.4 63.7 L2320.6 63.7 C2319.9 51.4 2309.2 44.3 2293.4 44.9 Z" fill="#1c1c1c" opacity="0.55"/>
<path d="M2236.2 85.1 L2247.4 81.0 C2252.0 107.6 2264.3 140.2 2282.7 172.9 L2277.6 176.9 C2270.4 174.9 2264.3 166.7 2260.2 157.6 C2251.0 138.2 2241.8 111.6 2236.2 85.1 Z" fill="#f4f4f4"/>
<path d="M2255.1 99.4 L2261.7 103.5 C2254.1 121.8 2239.8 144.3 2221.4 161.6 L2215.3 157.6 C2231.6 141.2 2245.9 119.8 2255.1 99.4 Z" fill="#f4f4f4"/>
<path d="M2322.4 73.9 L2325.7 74.9 C2323.5 101.4 2324.0 132.0 2323.0 158.6 C2320.4 172.9 2301.0 178.0 2285.7 172.9 C2279.6 170.8 2275.5 166.7 2274.0 163.7 L2281.6 159.6 C2286.7 165.7 2301.0 167.8 2309.2 161.6 C2315.3 155.5 2313.3 132.0 2317.3 107.6 C2318.9 95.3 2320.4 84.1 2322.4 73.9 Z" fill="#f4f4f4"/>
<path d="M2229.6 87.1 L2235.7 78.0 L2248.0 74.9 L2246.4 83.1 L2237.8 85.1 L2233.7 91.2 Z" fill="#f4f4f4"/>
<path d="M2183.7 165.7 L2203.1 146.3 L2207.1 150.4 L2190.8 163.7 Z" fill="#f4f4f4"/>
<g font-family="'Liberation Sans','Noto Sans CJK SC',sans-serif" font-weight="700" fill="#f4f4f4"><text transform="translate(2183,160) skewX(-20) scale(0.86,1.22)" font-size="50">铁</text><text transform="translate(2274,153) skewX(-12) rotate(-5) scale(0.85,1.15)" font-size="34">创</text></g>
<!-- z_weibo -->
<g filter="url(#wbsh)">
<path d="M2016.7 1550.2 C2016.2 1538.3 2028.9 1527.2 2041.7 1526.9 C2046.8 1526.7 2049.3 1529.3 2048.5 1533.2 C2054.4 1530.6 2059.9 1534.0 2057.8 1540.8 C2063.3 1544.6 2061.6 1552.7 2054.1 1557.0 C2045.9 1562.6 2030.6 1563.3 2023.0 1559.5 C2018.7 1557.3 2016.8 1554.1 2016.7 1550.2 Z" fill="#e9e9e9"/>
<ellipse cx="2036.1" cy="1549.7" rx="13.6" ry="9.5" fill="#3b3b3b" transform="rotate(-8 2036.1 1549.7)"/>
<ellipse cx="2034.9" cy="1550.7" rx="9.2" ry="6.8" fill="#e9e9e9" transform="rotate(-8 2034.9 1550.7)"/>
<circle cx="2032.0" cy="1551.4" r="2.6" fill="#3b3b3b"/>
<circle cx="2036.7" cy="1549.0" r="1.0" fill="#3b3b3b"/>
<path d="M 2049.7 1528.1 A 8.2 8.2 0 0 1 2058.2 1536.1" fill="none" stroke="#e9e9e9" stroke-width="3" stroke-linecap="round"/>
<path d="M 2051.0 1521.3 A 14.5 14.5 0 0 1 2065.5 1535.4" fill="none" stroke="#e9e9e9" stroke-width="3.2" stroke-linecap="round"/>
</g>
</svg>

<!-- header -->
<div id="bar"></div>
<div class="t" id="title" style="left:140px;top:64px;font-size:65px;font-weight:400;letter-spacing:20px;color:#e8e8e8;transform:scaleX(1.26);">量子武装</div>
<div class="t en" id="sub" style="left:142px;top:138px;font-size:18.5px;font-weight:700;letter-spacing:1.85px;color:#dcdcdc;">Quantum armament</div>

<!-- brand -->
<div class="t en" id="iron" style="left:2159px;top:193px;font-size:18px;letter-spacing:1px;color:#d8d8d8;transform:scaleX(1.66);">IRON TOYS</div>
<div class="t en" id="reg" style="left:2332px;top:77px;width:22px;height:22px;border:2px solid #e8e8e8;border-radius:50%;font-size:17px;font-weight:700;line-height:22px;text-align:center;color:#e8e8e8;">R</div>

<!-- labels -->
<div class="t cn" id="l1c" style="left:534px;top:609px;font-size:51px;transform:scaleX(1.05);">步枪</div>
<div class="t en" id="l1e" style="left:540px;top:667px;font-size:31.5px;letter-spacing:9.45px;transform:scaleX(0.77);">RIFLE</div>
<div class="t cn" id="l2c" style="left:528px;top:1117px;font-size:51px;transform:scaleX(1.05);">剪刃</div>
<div class="t en" id="l2e" style="left:529.5px;top:1176px;font-size:31.5px;letter-spacing:9.25px;transform:scaleX(0.77);">BLADE</div>
<div class="t cn" id="l3c" style="left:1387px;top:487px;font-size:51px;transform:scaleX(1.05);">步枪</div>
<div class="t en" id="l3e" style="left:1393px;top:545px;font-size:31.5px;letter-spacing:9.45px;transform:scaleX(0.77);">RIFLE</div>
<div class="t cn" id="l4c" style="left:1385px;top:818px;font-size:51px;transform:scaleX(1.05);">斩击</div>
<div class="t en" id="l4e" style="left:1385.5px;top:878px;font-size:31.5px;letter-spacing:10.4px;transform:scaleX(0.77);">SLASH</div>
<div class="t cn" id="l5c" style="left:1385px;top:1201px;font-size:51px;transform:scaleX(1.05);">剪刃</div>
<div class="t en" id="l5e" style="left:1385px;top:1261px;font-size:31.5px;letter-spacing:10.1px;transform:scaleX(0.77);">BLADE</div>

<!-- bottom titles -->
<div class="t cn" id="b1c" style="left:211px;top:1430.5px;font-size:50px;letter-spacing:2.6px;">量子型剪击刃一式</div>
<div class="t en" id="b1e" style="left:249px;top:1503px;font-size:24px;letter-spacing:0.55px;">QUANTUM CUTTING BLADE I</div>
<div class="t cn" id="b2c" style="left:979.5px;top:1430.5px;font-size:50px;letter-spacing:2.6px;">量子型剪击刃二式</div>
<div class="t en" id="b2e" style="left:978px;top:1503px;font-size:24px;letter-spacing:0.5px;">QUANTUM CUTTING BLADE TYPE II</div>
<div class="t cn" id="b3c" style="left:1807px;top:1430.5px;font-size:50px;letter-spacing:2.6px;">量子型浮游剪刃</div>
<div class="t en" id="b3e" style="left:1801px;top:1503px;font-size:24px;letter-spacing:0.3px;">QUANTUM FLOATING SCISSORS</div>

<!-- watermark -->
<div class="t" id="wmat" style="left:2070px;top:1507px;font-size:60px;transform:scaleX(0.96);font-weight:400;color:#fff;text-shadow:1px 1px 2px rgba(0,0,0,0.85),0 0 5px rgba(0,0,0,0.6);font-family:'Liberation Sans',sans-serif;">@</div>
<div class="t" id="wm" style="left:2129px;top:1514px;font-size:61px;letter-spacing:2.3px;font-weight:400;color:#fff;text-shadow:1px 1px 2px rgba(0,0,0,0.85),0 0 5px rgba(0,0,0,0.6);">铁创模型</div>
</body>
</html>
